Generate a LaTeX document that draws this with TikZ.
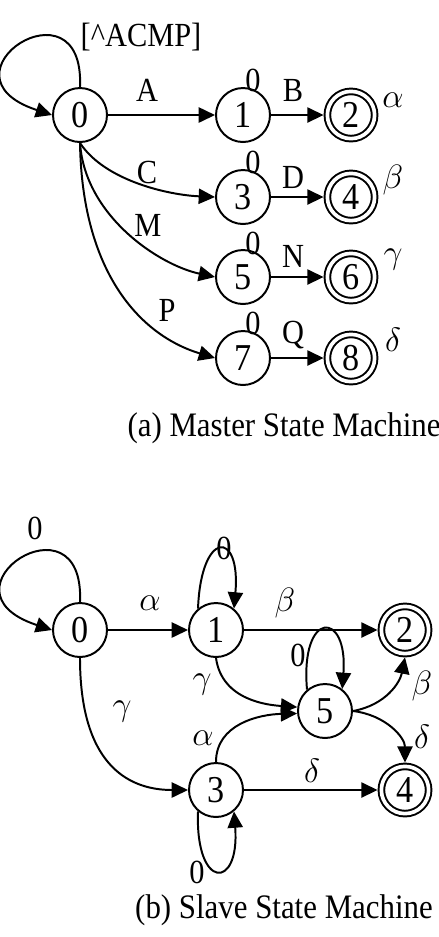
\documentclass[tikz,border=0pt]{standalone}
\usepackage{fontspec}
\setmainfont[FakeStretch=0.9]{Liberation Serif}
\usetikzlibrary{arrows.meta}

\begin{document}
\begin{tikzpicture}[x=0.0125cm, y=-0.0125cm,
                state/.style={circle,
                draw,
                line width=0.7pt,
                minimum size=19.2pt,
                inner sep=0pt,
                font=\fontsize{13.5}{14}\selectfont},
                accept/.style={state, double, double distance=1.3pt,
                minimum size=16.8pt, outer sep=1.35pt},
                arr/.style={-{Triangle[length=5.8pt, width=5.4pt]}, line width=0.7pt},
                lbl/.style={inner sep=0pt, font=\fontsize{12}{12}\selectfont},
                caption/.style={inner sep=0pt, font=\fontsize{12.2}{14}\selectfont}]
                \useasboundingbox (0,0) rectangle (439,937);
                % (a) master machine
                \node[state] (m0) at (80,115) {0};
                \node[state] (m1) at (243,115) {1};
                \node[accept] (m2) at (351,115) {2};
                \node[state] (m3) at (243,197) {3};
                \node[accept] (m4) at (351,197) {4};
                \node[state] (m5) at (243,277) {5};
                \node[accept] (m6) at (351,277) {6};
                \node[state] (m7) at (243,358) {7};
                \node[accept] (m8) at (351,358) {8};
                \node[lbl] (mloop) at (141,37) {[\^{}ACMP]};
                \node[lbl] (lA) at (147,90) {A};
                \node[lbl] (lB) at (293,90) {B};
                \node[lbl] (lC) at (147,172) {C};
                \node[lbl] (lD) at (293,177) {D};
                \node[lbl] (lM) at (148,225) {M};
                \node[lbl] (lN) at (293,256) {N};
                \node[lbl] (lP) at (167,310) {P};
                \node[lbl] (lQ) at (293,335) {Q};
                \node[lbl] (z1) at (253,80) {0};
                \node[lbl] (z3) at (253,162) {0};
                \node[lbl] (z5) at (253,243) {0};
                \node[lbl] (z7) at (253,323) {0};
                \node[lbl] (oa) at (393,100) {$\alpha$};
                \node[lbl] (ob) at (393,180) {$\beta$};
                \node[lbl] (og) at (393,260) {$\gamma$};
                \node[lbl] (od) at (393,340) {$\delta$};
                \draw[arr] (m0.north) .. controls +(5,-113) and +(-122,-40) .. (m0.west);
                \draw[arr] (m0)--(m1);
                \draw[arr] (m1)--(m2);
                \draw[arr] (m0.south) .. controls +(25,38) and +(-46,-2) .. (m3.west);
                \draw[arr] (m3)--(m4);
                \draw[arr] (m0.south) .. controls +(5,73) and +(-56,-12) .. (m5.west);
                \draw[arr] (m5)--(m6);
                \draw[arr] (m0.south) .. controls +(2,128) and +(-76,-23) .. (m7.west);
                \draw[arr] (m7)--(m8);
                \node[caption] (capa) at (284,428) {(a) Master State Machine};
                % (b) slave machine
                \node[state] (s0) at (80,630) {0};
                \node[state] (s1) at (216,630) {1};
                \node[accept] (s2) at (405,630) {2};
                \node[state] (s5) at (325,711) {5};
                \node[state] (s3) at (216,790) {3};
                \node[accept] (s4) at (405,790) {4};
                \node[lbl] (t0) at (35,528) {0};
                \node[lbl] (t1) at (224,548) {0};
                \node[lbl] (t5) at (298,655) {0};
                \node[lbl] (t3) at (197,872) {0};
                \node[lbl] (la1) at (150,603) {$\alpha$};
                \node[lbl] (lb1) at (285,603) {$\beta$};
                \node[lbl] (lg1) at (202,685) {$\gamma$};
                \node[lbl] (lb2) at (422,686) {$\beta$};
                \node[lbl] (ld1) at (422,737) {$\delta$};
                \node[lbl] (la2) at (203,738) {$\alpha$};
                \node[lbl] (lg2) at (122,712) {$\gamma$};
                \node[lbl] (ld2) at (312,771) {$\delta$};
                \draw[arr] (s0.north) .. controls +(5,-113) and +(-122,-40) .. (s0.west);
                \draw[arr] (s1.130) .. controls +(3,-79) and +(7,-79) .. (s1.50);
                \draw[arr] (s5.130) .. controls +(-7,-80) and +(6,-79) .. (s5.52);
                \draw[arr] (s3.230) .. controls +(-3,79) and +(6,79) .. (s3.310);
                \draw[arr] (s0)--(s1);
                \draw[arr] (s1)--(s2);
                \draw[arr] (s3)--(s4);
                \draw[arr] (s0.south) .. controls +(0,103) and +(-63,0) .. (s3.west);
                \draw[arr] (s1.south) .. controls +(6,43) and +(-28,-2) .. (s5.172);
                \draw[arr] (s3.north) .. controls +(0,-38) and +(-38,1) .. (s5.185);
                \draw[arr] (s5.east) .. controls +(33,-6) and +(-5,25) .. (s2.south);
                \draw[arr] (s5.east) .. controls +(33,4) and +(0,-25) .. (s4.north);
                \node[caption] (capb) at (284,910) {(b) Slave State Machine};
            \end{tikzpicture}
\end{document}
